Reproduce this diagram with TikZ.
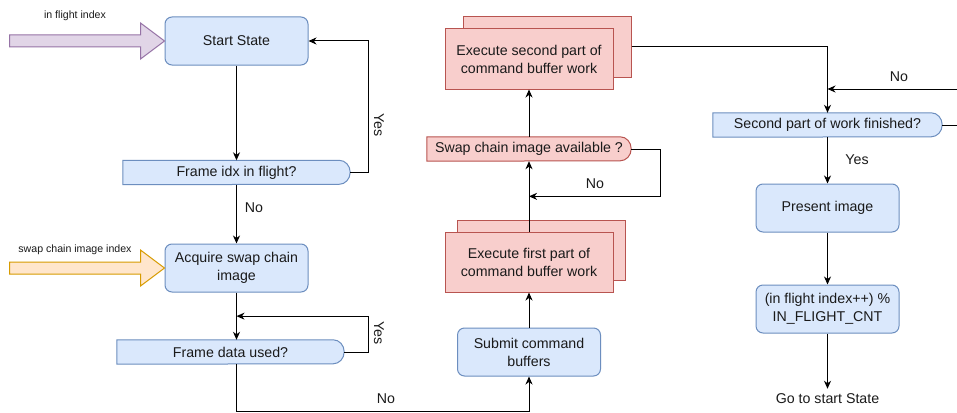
\documentclass[tikz,border=0pt]{standalone}
\usepackage{fontspec}
\setmainfont{Liberation Sans}
\usetikzlibrary{arrows.meta,calc,backgrounds}
\definecolor{bluefill}{HTML}{DAE8FC}
\definecolor{blueline}{HTML}{6C8EBF}
\definecolor{redfill}{HTML}{F8CECC}
\definecolor{redline}{HTML}{B85450}
\definecolor{purplefill}{HTML}{E1D5E7}
\definecolor{purpleline}{HTML}{9673A6}
\definecolor{orangefill}{HTML}{FFE6CC}
\definecolor{orangeline}{HTML}{D79B00}
\definecolor{ink}{HTML}{1A1A1A}

% decision box: square left end, rounded right end
\newcommand\decisionbox[3]{%
  \begin{pgfonlayer}{background}
    \draw[line width=1pt,fill=#2,draw=#3]
      (#1.north west) -- ([xshift=-11pt]#1.north east)
      arc[start angle=90,end angle=-90,x radius=11pt,y radius=12pt]
      -- (#1.south west) -- cycle;
  \end{pgfonlayer}}

\begin{document}
\begin{tikzpicture}[x=1pt,y=-1pt,
  txt/.style={text=ink,font=\fontsize{14.2}{18}\selectfont},
  small/.style={text=ink,font=\fontsize{10.6}{12}\selectfont},
  proc/.style={txt,draw=blueline,fill=bluefill,line width=1pt,rounded corners=7pt,
    minimum width=143pt,minimum height=48pt,inner sep=0pt,align=center},
  work/.style={txt,draw=redline,fill=redfill,line width=1pt,
    minimum width=168pt,minimum height=60pt,inner sep=0pt,align=center},
  dec/.style={txt,minimum height=24pt,inner sep=0pt},
  conn/.style={draw=black,line width=1pt,-{Stealth[length=8pt,width=7pt,inset=2.5pt]}},
  plain/.style={draw=black,line width=1pt},
  lbl/.style={txt}]

\begin{pgfonlayer}{background}
  \fill[white] (0,0) rectangle (957,412);
\end{pgfonlayer}
\useasboundingbox (0,0) rectangle (957,412);

% left column
\node[proc] (start) at (236.5,41) {Start State};
\node[dec,minimum width=227pt] (fidx) at (236.5,172.5) {Frame idx in flight?};
\decisionbox{fidx}{bluefill}{blueline}
\node[proc] (acq) at (236.5,268) {Acquire swap chain\\image};
\node[dec,minimum width=227pt] (fdata) at (230.5,352) {Frame data used?};
\decisionbox{fdata}{bluefill}{blueline}

% inputs
\draw[line width=1pt,fill=purplefill,draw=purpleline]
  (start.west) -- ++(-24,-18) -- ++(0,12) -- ++(-131,0) -- ++(0,12)
  -- ++(131,0) -- ++(0,12) -- cycle;
\node[small] (lblflight) at (75,16) {in flight index};
\draw[line width=1pt,fill=orangefill,draw=orangeline]
  (acq.west) -- ++(-24,-18) -- ++(0,12) -- ++(-131,0) -- ++(0,12)
  -- ++(131,0) -- ++(0,12) -- cycle;
\node[small] (lblswap) at (75,250) {swap chain image index};

% middle column
\node[proc] (submit) at (529,352) {Submit command\\buffers};
\node[work] (exec1b) at (541,250) {};
\node[work] (exec1) at (529,262) {Execute first part of\\command buffer work};
\node[dec,minimum width=204pt] (avail) at (529,149) {Swap chain image available ?};
\decisionbox{avail}{redfill}{redline}
\node[work] (exec2b) at (547,47) {};
\node[work] (exec2) at (529,59) {Execute second part of\\command buffer work};

% right column
\node[dec,minimum width=229pt] (sec) at (827.5,125) {Second part of work finished?};
\decisionbox{sec}{bluefill}{blueline}
\node[proc] (present) at (827.5,208) {Present image};
\node[proc] (inc) at (827.5,309) {(in flight index++) \%\\IN\_FLIGHT\_CNT};
\node[txt,inner sep=5pt] (goto) at (827.5,399) {Go to start State};
\coordinate (outA) at (957,125);
\coordinate (outB) at (957,89);

% connectors, left column
\draw[conn] (start.south) -- (fidx.north);
\draw[conn] (fidx.east) -- ++(18,0) |- (start.east);
\node[lbl,rotate=-90] at (379,125) {Yes};
\draw[conn] (fidx.south) -- (acq.north);
\node[lbl] at (254,208) {No};
\draw[conn] (acq.south) -- (acq.south |- fdata.north);
\draw[conn] (fdata.east) -- ++(24,0) |- ($(acq.south)!0.5!(acq.south |- fdata.north)$);
\node[lbl,rotate=-90] at (379,333) {Yes};
\draw[conn] (acq.south |- fdata.south) -- ++(0,47) -| (submit.south);
\node[lbl] at (386,399) {No};

% connectors, middle column
\draw[conn] (submit.north) -- (exec1.south);
\draw[conn] (exec1.north) -- (avail.south);
\draw[conn] (avail.east) -- ++(29,0) |- ($(exec1.north)!0.5!(avail.south)$);
\node[lbl] at (595,184) {No};
\draw[conn] (avail.north) -- (exec2.south);

% connectors, right column
\draw[conn] (exec2b.east) -| (sec.north);
\draw[plain] (sec.east) -- (outA);
\draw[conn] (outB) -- (sec.north |- outB);
\node[lbl] at (899,77) {No};
\draw[conn] (sec.south) -- (present.north);
\node[lbl] at (857,160) {Yes};
\draw[conn] (present.south) -- (inc.north);
\draw[conn] (inc.south) -- (goto.north);
\end{tikzpicture}
\end{document}
